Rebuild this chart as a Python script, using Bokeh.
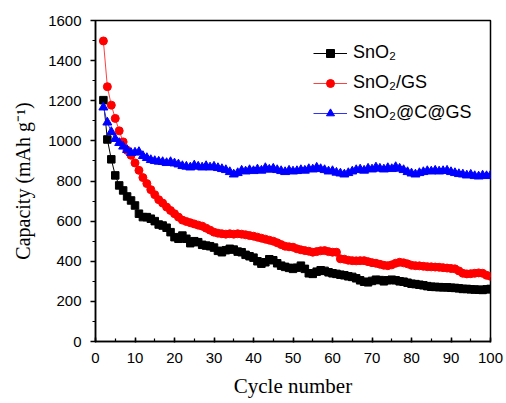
from bokeh.plotting import figure
from bokeh.models import SingleIntervalTicker, Range1d, Legend, LegendItem
from bokeh.embed import file_html
from bokeh.resources import INLINE

# Cycle index and discharge capacities (mAh g^-1)
cycles = list(range(2, 101))

sno2 = [
    1203, 1007, 908, 828, 778, 753, 723, 703, 678,          # 2-10
    637, 620, 620, 612, 600, 583, 578, 567, 545, 520,       # 11-20
    512, 528, 512, 490, 500, 495, 482, 478, 475, 468,       # 21-30
    452, 445, 455, 462, 458, 448, 445, 432, 425, 418,       # 31-40
    400, 388, 395, 410, 405, 390, 378, 372, 367, 362,       # 41-50
    368, 378, 362, 340, 337, 348, 355, 352, 345, 340,       # 51-60
    337, 333, 330, 325, 322, 315, 305, 298, 295, 302,       # 61-70
    308, 306, 300, 305, 308, 305, 300, 298, 293, 288,       # 71-80
    286, 283, 280, 276, 273, 272, 271, 270, 270, 268,       # 81-90
    267, 265, 262, 262, 260, 259, 258, 257, 260, 262,       # 91-100
]

sno2_gs = [
    1498, 1270, 1178, 1112, 1050, 995, 953, 928, 890,       # 2-10
    853, 817, 787, 757, 732, 707, 690, 670, 653, 637,       # 11-20
    620, 605, 598, 592, 586, 580, 575, 565, 555, 545,       # 21-30
    540, 537, 535, 537, 535, 537, 535, 532, 528, 525,       # 31-40
    520, 515, 510, 505, 500, 492, 483, 475, 472, 470,       # 41-50
    462, 457, 453, 450, 445, 448, 452, 453, 448, 445,       # 51-60
    445, 412, 410, 405, 403, 402, 403, 403, 398, 393,       # 61-70
    390, 385, 380, 378, 382, 390, 395, 392, 387, 380,       # 71-80
    378, 377, 375, 373, 372, 371, 370, 368, 366, 364,       # 81-90
    362, 352, 340, 337, 338, 340, 342, 340, 330, 325,       # 91-100
]

sno2_c_gs = [
    1167, 1092, 1045, 1010, 990, 972, 955, 940, 942,        # 2-10
    945, 925, 915, 905, 900, 897, 895, 890, 895, 888,       # 11-20
    883, 875, 872, 868, 878, 872, 868, 875, 868, 872,       # 21-30
    865, 860, 855, 845, 833, 840, 852, 848, 855, 850,       # 31-40
    858, 852, 865, 857, 862, 855, 850, 845, 852, 848,       # 41-50
    850, 855, 852, 860, 858, 867, 860, 855, 848, 850,       # 51-60
    842, 838, 833, 840, 848, 855, 858, 852, 862, 858,       # 61-70
    868, 862, 858, 865, 860, 870, 862, 855, 845, 838,       # 71-80
    833, 840, 845, 850, 848, 852, 848, 850, 852, 845,       # 81-90
    840, 835, 833, 828, 832, 825, 823, 828, 825, 828,       # 91-100
]

series_labels = ["SnO₂", "SnO₂/GS", "SnO₂@C@GS"]

p = figure(width=506, height=403, output_backend="svg", toolbar_location=None,
           x_range=Range1d(0, 100), y_range=Range1d(0, 1600),
           min_border_left=95, min_border_right=16,
           min_border_top=20, min_border_bottom=62)

p.xgrid.visible = False
p.ygrid.visible = False
p.background_fill_color = "white"
p.border_fill_color = "white"
p.outline_line_color = "black"
p.outline_line_width = 1.5
p.outline_line_alpha = 1.0

# X axis
p.xaxis.ticker = SingleIntervalTicker(interval=10, num_minor_ticks=2)
p.xaxis.axis_label = "Cycle number"
p.xaxis.axis_label_text_font = "Liberation Serif"
p.xaxis.axis_label_text_font_style = "normal"
p.xaxis.axis_label_text_font_size = "21px"
p.xaxis.axis_label_standoff = 8
p.xaxis.major_label_text_font = "Liberation Sans"
p.xaxis.major_label_text_font_size = "15px"
p.xaxis.major_label_standoff = 10
p.xaxis.major_tick_in = 4
p.xaxis.major_tick_out = 1
p.xaxis.minor_tick_in = 3
p.xaxis.minor_tick_out = 0

# Y axis
p.yaxis.ticker = SingleIntervalTicker(interval=200, num_minor_ticks=2)
p.yaxis.axis_label = "Capacity (mAh g⁻¹)"
p.yaxis.axis_label_text_font = "Liberation Serif"
p.yaxis.axis_label_text_font_style = "normal"
p.yaxis.axis_label_text_font_size = "20px"
p.yaxis.axis_label_standoff = 11
p.yaxis.major_label_text_font = "Liberation Sans"
p.yaxis.major_label_text_font_size = "15px"
p.yaxis.major_label_standoff = 9
p.yaxis.major_tick_in = 0
p.yaxis.major_tick_out = 5
p.yaxis.minor_tick_in = 0
p.yaxis.minor_tick_out = 3

for ax in (p.xaxis, p.yaxis):
    ax.axis_line_width = 1.5
    ax.axis_line_color = "black"
    ax.major_tick_line_width = 1.5
    ax.minor_tick_line_width = 1.2
    ax.major_label_text_color = "black"
    ax.axis_label_text_color = "black"

# Curves: thin connecting line plus dense markers
l1 = p.line(cycles, sno2, line_color="black", line_width=1)
s1 = p.scatter(cycles, sno2, marker="square", size=7.5,
               fill_color="black", line_color="black")
l2 = p.line(cycles, sno2_gs, line_color="#ff4040", line_width=1)
s2 = p.scatter(cycles, sno2_gs, marker="circle", size=8,
               fill_color="#ff0000", line_color="#ff0000")
l3 = p.line(cycles, sno2_c_gs, line_color="#3030ff", line_width=1)
s3 = p.scatter(cycles, sno2_c_gs, marker="triangle", size=9,
               fill_color="#0000ff", line_color="#0000ff")

legend = Legend(items=[
    LegendItem(label=series_labels[0], renderers=[l1, s1]),
    LegendItem(label=series_labels[1], renderers=[l2, s2]),
    LegendItem(label=series_labels[2], renderers=[l3, s3]),
], location=(218, 218))
legend.border_line_color = None
legend.background_fill_alpha = 0
legend.label_text_font = "Liberation Sans"
legend.label_text_font_size = "18px"
legend.label_text_color = "black"
legend.glyph_width = 34
legend.glyph_height = 20
legend.label_height = 20
legend.label_standoff = 6
legend.spacing = 9
legend.padding = 0
legend.margin = 0
p.add_layout(legend)

open("out.html", "w").write(file_html(p, INLINE))
